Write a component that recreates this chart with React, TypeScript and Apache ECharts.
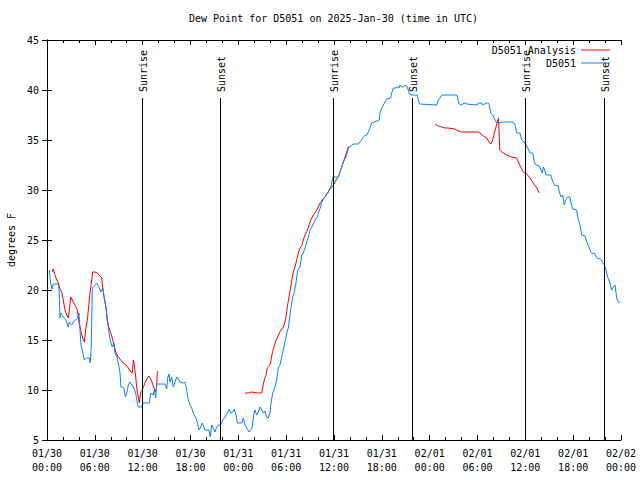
import React, { useEffect, useRef } from "react";
import * as echarts from "echarts";

const FONT = '"DejaVu Sans Mono", "Liberation Mono", monospace';

const titleText = "Dew Point for D5051 on 2025-Jan-30 (time in UTC)";
const yAxisTitle = "degrees F";
const seriesNames = ["D5051 Analysis", "D5051"];

// x tick labels, one per 6 hours from 01/30 00:00 UTC
const tickLabels = [
  "01/30\n00:00", "01/30\n06:00", "01/30\n12:00", "01/30\n18:00",
  "01/31\n00:00", "01/31\n06:00", "01/31\n12:00", "01/31\n18:00",
  "02/01\n00:00", "02/01\n06:00", "02/01\n12:00", "02/01\n18:00",
  "02/02\n00:00",
];

// Sunrise / sunset times (hours since 01/30 00:00 UTC)
const sunHours = [11.95, 21.74, 35.92, 45.83, 59.98, 69.91];
const sunNames = ["Sunrise", "Sunset", "Sunrise", "Sunset", "Sunrise", "Sunset"];
const sunLineTop = 39.2;

// Observed D5051 dew point (hours since start, deg F)
const obsHours = [
  0.29, 0.46, 0.63, 0.79, 1.42, 1.51, 1.63, 1.76, 2.04, 2.38, 2.67, 2.8, 3.1, 3.3, 3.85, 4.01,
  4.14, 4.26, 4.43, 4.68, 4.98, 5.31, 5.43, 5.56, 5.68, 6.02, 6.23, 6.52, 6.74, 6.99, 7.15, 7.4,
  7.56, 7.78, 7.99, 8.19, 8.4, 8.53, 8.82, 8.99, 9.16, 9.28, 9.45, 9.66, 9.82, 10.0, 10.2, 10.41,
  10.66, 10.88, 11.13, 11.33, 11.45, 11.88, 12.0, 12.83, 13.01, 13.33, 13.46, 13.64, 13.76, 14.8,
  15.02, 15.14, 15.3, 15.43, 15.64, 15.84, 16.06, 16.27, 16.47, 16.68, 17.1, 17.31, 17.52, 17.72,
  17.94, 18.15, 18.35, 18.78, 19.07, 19.28, 19.48, 19.82, 20.32, 20.48, 20.66, 20.86, 21.07, 21.29,
  21.49, 21.79, 22.04, 22.33, 22.62, 22.83, 23.08, 23.29, 23.5, 23.71, 23.87, 24.42, 24.62, 24.84,
  25.34, 25.72, 25.97, 26.09, 26.3, 26.5, 26.72, 26.93, 27.13, 27.34, 27.55, 27.76, 27.97, 28.1,
  28.31, 28.6, 28.81, 29.01, 29.23, 29.44, 29.64, 29.85, 30.07, 30.27, 30.39, 30.61, 30.82, 31.02,
  31.23, 31.45, 31.74, 31.95, 32.15, 32.36, 32.58, 32.78, 32.99, 33.2, 33.4, 33.62, 33.91, 34.16,
  34.33, 34.46, 34.87, 35.29, 35.59, 35.71, 35.84, 36.54, 36.75, 36.97, 37.17, 37.51, 37.8, 38.01,
  38.22, 38.42, 39.05, 39.26, 39.6, 39.8, 40.1, 40.3, 40.52, 40.73, 41.02, 41.68, 41.77, 41.98,
  42.19, 42.61, 43.11, 43.24, 43.44, 43.78, 43.94, 44.15, 44.28, 44.49, 44.69, 44.91, 45.12, 45.32,
  45.45, 45.75, 46.45, 46.57, 46.7, 48.88, 49.08, 49.3, 49.51, 51.39, 51.52, 51.68, 51.89, 52.43,
  52.65, 53.98, 54.1, 54.53, 54.65, 55.16, 55.36, 55.48, 55.66, 55.91, 56.07, 56.32, 56.49, 57.33,
  58.49, 58.71, 58.92, 59.33, 59.55, 59.96, 60.3, 60.59, 60.93, 61.13, 61.34, 61.75, 61.97, 62.13,
  62.26, 62.47, 62.59, 63.18, 63.38, 63.64, 64.14, 64.26, 64.48, 64.69, 64.89, 65.06, 65.27, 65.6,
  65.73, 65.94, 66.44, 66.57, 66.86, 67.07, 67.49, 67.7, 67.99, 68.2, 68.33, 68.74, 68.95, 69.46,
  69.66, 69.91, 70.12, 70.33, 70.62, 70.83, 71.03, 71.25, 71.46, 71.67, 71.88,
];
const obsValues = [
  22.0, 20.7, 20.1, 20.6, 20.6, 20.1, 17.2, 17.7, 17.3, 17.0, 16.3, 16.8, 16.5, 16.8, 17.2, 17.7,
  16.0, 14.5, 14.0, 13.0, 13.2, 13.2, 12.7, 14.5, 20.2, 20.5, 20.7, 20.3, 19.8, 20.2, 19.3, 18.3,
  17.0, 15.7, 14.8, 14.3, 14.7, 13.7, 13.2, 12.5, 11.7, 10.3, 10.3, 10.2, 9.3, 9.7, 10.5, 10.8,
  10.5, 10.2, 9.7, 8.7, 8.3, 8.3, 8.7, 8.7, 9.7, 9.5, 10.0, 9.2, 10.6, 10.6,
  10.1, 11.2, 11.6, 10.8, 11.3, 10.3, 10.8, 11.3, 11.1, 10.8, 10.7, 10.8, 10.0, 9.0,
  8.5, 8.2, 7.7, 7.0, 6.0, 6.3, 6.7, 6.0, 6.0, 5.3, 6.5, 6.2, 5.8, 6.3,
  6.5, 6.5, 7.0, 7.3, 7.7, 8.1, 7.7, 7.8, 8.1, 7.5, 6.7, 6.7, 7.2, 6.5,
  5.8, 6.2, 7.7, 8.0, 7.5, 7.8, 8.3, 8.0, 7.7, 7.9, 7.3, 7.2, 7.7, 8.7,
  9.7, 10.3, 11.0, 12.2, 12.5, 13.3, 14.0, 14.8, 15.7, 16.2, 17.0, 18.3, 19.3, 19.8,
  20.7, 22.0, 22.3, 23.5, 23.7, 24.2, 24.8, 25.3, 26.0, 26.3, 26.6, 27.0, 27.3, 28.0,
  28.3, 29.0, 29.3, 29.8, 30.2, 30.7, 31.3, 31.3, 31.8, 32.3, 32.8, 33.3, 34.2, 34.3,
  34.5, 34.6, 34.6, 34.8, 35.2, 35.4, 35.5, 35.8, 36.2, 36.7, 36.8, 37.0, 37.7, 38.2,
  38.5, 39.1, 39.2, 39.7, 40.2, 40.2, 40.3, 40.2, 40.5, 40.3, 40.3, 40.5, 40.4, 40.0,
  39.6, 39.5, 39.5, 39.0, 38.6, 38.5, 39.0, 39.2, 39.5, 39.5, 39.2, 38.6, 38.5, 38.7,
  38.6, 38.5, 38.7, 38.7, 38.5, 38.7, 38.7, 38.5, 37.7, 37.5, 37.2, 36.8, 36.7, 36.8,
  36.8, 36.5, 35.7, 35.7, 35.0, 34.7, 34.2, 33.7, 33.7, 32.8, 32.5, 32.4, 32.0, 31.7,
  32.3, 31.9, 31.5, 31.5, 31.0, 30.5, 30.4, 29.8, 29.3, 29.5, 28.5, 29.0, 29.3, 29.3,
  28.7, 28.1, 28.0, 27.3, 26.5, 25.5, 25.4, 24.8, 24.3, 23.8, 23.7, 23.6, 23.2, 23.1,
  22.8, 22.5, 22.0, 21.3, 20.7, 20.0, 20.3, 20.5, 19.2, 18.8, 18.7,
];

// D5051 analysis (null marks a gap)
const anaHours = [
  0.66, 0.79, 1.0, 1.22, 1.42, 1.63, 1.84, 2.04, 2.26, 2.47, 2.67, 2.8, 2.97, 3.17, 3.51, 3.8,
  4.01, 4.23, 4.43, 4.68, 4.85, 5.06, 5.27, 5.39, 5.61, 5.73, 6.02, 6.31, 6.65, 6.86, 6.99, 7.19,
  7.4, 7.56, 7.78, 7.99, 8.19, 8.4, 8.66, 8.94, 9.24, 9.57, 9.91, 10.2, 10.5, 10.7, 10.83, 10.95,
  11.13, 11.25, 11.45, 11.58, 11.75, 11.95, 12.29, 12.58, 12.79, 13.01, 13.21, 13.42, 13.59, 13.76,
  13.84, 19.0,
  24.84, 25.25, 25.68, 26.5, 26.93, 27.06, 27.26, 27.47, 27.63, 27.89, 28.06, 28.26, 28.47, 28.69,
  28.89, 29.14, 29.35, 29.64, 29.85, 29.98, 30.14, 30.36, 30.57, 30.77, 30.9, 31.11, 31.32, 31.52,
  31.74, 31.95, 32.15, 32.36, 32.58, 32.78, 32.99, 33.2, 33.4, 33.62, 33.83, 34.03, 34.24, 34.46,
  34.66, 34.87, 35.09, 35.29, 35.5, 35.71, 35.92, 36.13, 36.34, 36.54, 36.75, 36.97, 37.17, 37.38,
  37.59, 37.8, 37.92, 43.0,
  48.67, 49.08, 49.51, 49.92, 50.34, 51.18, 51.59, 52.02, 54.1, 54.31, 54.73, 55.16, 55.44, 55.7,
  55.91, 56.11, 56.32, 56.49, 56.64, 56.79, 57.04, 57.67, 58.29, 58.92, 59.13, 59.42, 59.75, 60.17,
  60.59, 61.0, 61.43, 61.75,
];
const anaValues = [
  21.8, 22.1, 21.5, 21.0, 20.7, 20.1, 19.8, 19.0, 18.0, 17.5, 17.2, 18.0, 19.3, 19.0, 18.5, 18.0,
  16.8, 16.0, 15.3, 14.8, 16.0, 17.0, 18.7, 19.7, 21.0, 21.8, 21.8, 21.7, 21.4, 21.2, 20.2, 19.2,
  18.2, 17.0, 16.2, 15.7, 15.2, 14.5, 13.7, 13.3, 13.0, 12.7, 12.5, 12.2, 11.8, 11.7, 13.0, 12.5,
  11.3, 10.3, 9.3, 8.7, 9.8, 10.0, 10.7, 11.2, 11.4, 11.1, 10.7, 10.2, 9.8, 10.3,
  11.9, null,
  9.7, 9.7, 9.8, 9.7, 9.7, 10.3, 11.0, 11.5, 12.2, 12.4, 12.8, 13.7, 14.3, 14.9,
  15.2, 15.7, 16.0, 16.3, 16.8, 17.3, 18.3, 19.3, 20.3, 21.3, 21.8, 22.3, 23.0, 23.7,
  24.2, 24.4, 25.0, 25.5, 25.8, 26.3, 26.8, 27.2, 27.5, 27.7, 28.0, 28.3, 28.7, 28.8,
  29.1, 29.3, 29.6, 29.8, 30.2, 30.3, 30.5, 30.8, 31.1, 31.3, 31.8, 32.3, 32.8, 33.3,
  33.8, 34.3, 34.3, null,
  36.6, 36.4, 36.3, 36.2, 36.2, 36.1, 35.9, 35.8, 35.8, 35.7, 35.4, 35.2, 34.8, 34.6,
  35.0, 35.7, 36.3, 36.8, 37.2, 34.0, 33.8, 33.5, 33.3, 33.2, 32.8, 32.3, 31.8, 31.6,
  31.2, 30.7, 30.2, 29.7,
];

const X_MIN = 0;
const X_MAX = 72;
const Y_MIN = 5;
const Y_MAX = 45;

export default function App() {
  const ref = useRef<HTMLDivElement>(null);

  useEffect(() => {
    if (!ref.current) return;
    const chart = echarts.init(ref.current, undefined, { renderer: "svg" });

    const obsData = obsHours.map((h, i) => [h, obsValues[i]]);
    const anaData = anaHours.map((h, i) => [h, anaValues[i] === null ? "-" : anaValues[i]]);

    const axisLine = { show: true, lineStyle: { color: "#000", width: 1 } };
    const textStyle = { fontFamily: FONT, fontSize: 10, color: "#000" };

    const xBase = {
      type: "value",
      min: X_MIN,
      max: X_MAX,
      interval: 6,
      axisLine,
      axisTick: { show: true, inside: true, length: 5, lineStyle: { color: "#000" } },
      minorTick: { show: true, splitNumber: 3, length: 3, lineStyle: { color: "#000" } },
      splitLine: { show: false },
    };
    const yBase = {
      type: "value",
      min: Y_MIN,
      max: Y_MAX,
      interval: 5,
      axisLine,
      axisTick: { show: true, inside: true, length: 5, lineStyle: { color: "#000" } },
      splitLine: { show: false },
    };

    chart.setOption({
      animation: false,
      backgroundColor: "#fff",
      textStyle: { fontFamily: FONT },
      title: {
        text: titleText,
        left: 189,
        top: 13,
        padding: 0,
        textStyle: { ...textStyle, fontWeight: "normal" },
      },
      legend: {
        data: seriesNames,
        orient: "vertical",
        align: "right",
        right: 30,
        top: 44,
        padding: 0,
        itemGap: 1,
        itemWidth: 29,
        itemHeight: 1,
        icon: "rect",
        textStyle: { ...textStyle, lineHeight: 12 },
      },
      grid: {
        left: 47,
        right: 19,
        top: 40,
        bottom: 40,
        containLabel: false,
        outerBoundsMode: "none",
      },
      xAxis: [
        {
          ...xBase,
          position: "bottom",
          axisLabel: {
            show: true,
            ...textStyle,
            margin: 6,
            lineHeight: 14,
            hideOverlap: false,
            formatter: (v: number) => tickLabels[Math.round(v / 6)] ?? "",
          },
        },
        { ...xBase, position: "top", axisLabel: { show: false } },
      ],
      yAxis: [
        {
          ...yBase,
          position: "left",
          name: yAxisTitle,
          nameLocation: "middle",
          nameRotate: 90,
          nameGap: 31,
          nameTextStyle: textStyle,
          axisLabel: { show: true, ...textStyle, margin: 8 },
        },
        { ...yBase, position: "right", axisLabel: { show: false } },
      ],
      series: [
        {
          name: seriesNames[0],
          type: "line",
          data: anaData,
          showSymbol: false,
          symbol: "none",
          connectNulls: false,
          lineStyle: { color: "#ff0000", width: 1 },
          itemStyle: { color: "#ff0000" },
          z: 2,
        },
        {
          name: seriesNames[1],
          type: "line",
          data: obsData,
          showSymbol: false,
          symbol: "none",
          lineStyle: { color: "#0a80ff", width: 1 },
          itemStyle: { color: "#0a80ff" },
          z: 3,
        },
        {
          name: "sun",
          type: "line",
          data: [],
          silent: true,
          markLine: {
            silent: true,
            symbol: ["none", "none"],
            label: { show: false },
            lineStyle: { color: "#000", width: 1, type: "solid" },
            data: sunHours.map((h) => [
              { coord: [h, Y_MIN] },
              { coord: [h, sunLineTop] },
            ]),
          },
          z: 1,
        },
      ],
    });

    const graphics = sunHours.map((h, i) => {
      const p = chart.convertToPixel({ gridIndex: 0 }, [h, sunLineTop]) as number[];
      return {
        type: "text",
        x: p[0] + 1,
        y: p[1] - 6,
        rotation: Math.PI / 2,
        silent: true,
        style: {
          text: sunNames[i],
          font: `10px ${FONT}`,
          fill: "#000",
          align: "left",
          verticalAlign: "middle",
        },
      };
    });
    chart.setOption({ graphic: graphics });

    return () => chart.dispose();
  }, []);

  return <div ref={ref} style={{ width: 640, height: 480, position: "absolute", left: 0, top: 0 }} />;
}
